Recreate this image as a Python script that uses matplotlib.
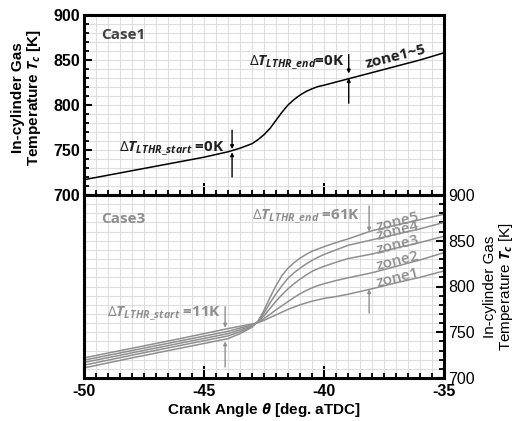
import matplotlib
matplotlib.use("Agg")
import matplotlib.pyplot as plt
from matplotlib.ticker import MultipleLocator, FixedLocator

plt.rcParams['axes.unicode_minus'] = False
plt.rcParams['mathtext.fontset'] = 'custom'
plt.rcParams['mathtext.rm'] = 'Open Sans'
plt.rcParams['mathtext.it'] = 'Open Sans:italic:bold'
plt.rcParams['mathtext.bf'] = 'Open Sans:bold'

# ---- data ----
theta_case1 = [-50, -49, -48, -47, -46, -45, -44, -43.5, -43, -42.75, -42.5, -42.25, -42,
               -41.75, -41.5, -41.25, -41, -40.75, -40.5, -40.25, -40, -39, -38, -37, -36, -35]
T_case1 = [717, 722, 727, 732, 737, 742, 748, 752, 757, 761.5, 767, 774, 783,
           792, 800, 806, 811, 815, 818, 820.5, 822, 829, 836, 843, 850, 858]

theta_case3 = [-50, -48, -46, -44, -43.5, -43, -42.75, -42.5, -42.25, -42, -41.75, -41.5,
               -41.25, -41, -40.75, -40.5, -40.25, -40, -39.5, -39, -38, -37, -36, -35]
T_zone1 = [722, 732.5, 743, 754, 756.5, 759, 760.5, 763, 766, 769, 772, 775,
           777.5, 780, 782, 784, 785.5, 787, 789, 791.5, 797.5, 804, 810, 817]
T_zone2 = [719.5, 730, 740.5, 751, 754.5, 758, 761, 765, 769.5, 774.5, 779, 783.5,
           788, 792, 795.5, 798.5, 801, 803, 806.5, 809.5, 815, 822, 829, 837]
T_zone3 = [717, 727.5, 738, 748.5, 752.5, 757, 761.5, 768, 776, 784, 791, 797.5,
           803, 808, 812.5, 816.5, 819.5, 822, 826.5, 830.5, 835.5, 842, 848, 855]
T_zone4 = [714, 725, 735.5, 746, 750.5, 756, 762, 771, 782, 792, 801, 809,
           815, 820, 824.5, 828.5, 832, 835, 840, 845, 851, 857, 863, 870]
T_zone5 = [711, 722, 732.5, 743, 748.5, 755.5, 762, 774, 788, 801, 812, 820,
           826, 831, 835, 838.5, 841, 843.5, 848, 852, 861, 867, 873, 879]
zone_labels = ['zone1', 'zone2', 'zone3', 'zone4', 'zone5']
x_ticks = [-50, -45, -40, -35]
y_ticks = [700, 750, 800, 850, 900]

gray = '#8f8f8f'
W, H = 517, 421
fig = plt.figure(figsize=(W / 100, H / 100), dpi=100)
left, right = 84 / W, 444 / W
ax1 = fig.add_axes([left, 1 - 195 / H, right - left, 180 / H])
ax2 = fig.add_axes([left, 1 - 378 / H, right - left, 183 / H])

for ax in (ax1, ax2):
    ax.set_xlim(-50, -35)
    ax.set_ylim(700, 900)
    ax.xaxis.set_major_locator(FixedLocator(x_ticks))
    ax.xaxis.set_minor_locator(MultipleLocator(0.5))
    ax.yaxis.set_major_locator(FixedLocator(y_ticks))
    ax.yaxis.set_minor_locator(MultipleLocator(10))
    ax.grid(True, which='both', color='#dedede', lw=0.8)
    ax.set_axisbelow(True)
    for s in ax.spines.values():
        s.set_linewidth(2.2)
    ax.tick_params(which='major', direction='in', length=8.5, width=1.5)
    ax.tick_params(which='minor', direction='in', length=3.8, width=1.3)

# top axes
ax1.tick_params(axis='x', which='both', bottom=True, top=False, labelbottom=False)
ax1.tick_params(axis='y', which='both', left=True, right=False, labelleft=True, pad=3)
ax1.tick_params(axis='y', which='major', length=6)
for lab in ax1.get_yticklabels():
    lab.set_fontweight('bold')
    lab.set_fontfamily('Liberation Sans')
    lab.set_fontsize(11.5)
ax1.set_ylabel('In-cylinder Gas\nTemperature $T_c$ [K]', fontsize=11, fontweight='bold',
               family='Liberation Sans', linespacing=1.0)
ax1.yaxis.set_label_coords(-0.113, 0.54)

ax1.plot(theta_case1, T_case1, color='black', lw=1.1)
ax1.text(-49.3, 878, 'Case1', fontsize=11, fontweight='bold', family='Open Sans',
         color='#404040', ha='left', va='center')
ax1.text(-44.15, 751, r'$\mathit{\Delta T}_{\mathit{LTHR\_start}}$ =0K', fontsize=11,
         fontweight='bold', family='Open Sans', color='#202020', ha='right', va='center')
ax1.text(-39.15, 847, r'$\mathit{\Delta T}_{\mathit{LTHR\_end}}$=0K', fontsize=11,
         fontweight='bold', family='Open Sans', color='#202020', ha='right', va='center')
ax1.text(-37.0, 854, 'zone1~5', fontsize=11, fontweight='bold', family='Open Sans',
         color='#202020', ha='center', va='center', rotation=14)
ap_k = dict(arrowstyle='-|>', lw=1.0, color='black', mutation_scale=5, shrinkA=0, shrinkB=0)
ax1.annotate('', xy=(-43.83, 751), xytext=(-43.83, 772), arrowprops=ap_k)
ax1.annotate('', xy=(-43.83, 747.5), xytext=(-43.83, 720), arrowprops=ap_k)
ax1.annotate('', xy=(-38.97, 835), xytext=(-38.97, 856), arrowprops=ap_k)
ax1.annotate('', xy=(-38.97, 830), xytext=(-38.97, 802), arrowprops=ap_k)

# bottom axes
ax2.tick_params(axis='x', which='both', bottom=True, top=False, labelbottom=True, pad=4)
ax2.tick_params(axis='y', which='both', left=False, right=True, labelleft=False,
                labelright=True, pad=3)
ax2.tick_params(axis='y', which='major', length=6)
for lab in ax2.get_xticklabels():
    lab.set_fontweight('bold')
    lab.set_fontfamily('Liberation Sans')
    lab.set_fontsize(11.5)
for lab in ax2.get_yticklabels():
    lab.set_fontfamily('Liberation Sans')
    lab.set_fontsize(11.5)
ax2.yaxis.set_label_position('right')
ax2.set_ylabel('In-cylinder Gas\nTemperature $T_c$ [K]', fontsize=11,
               family='Liberation Sans', labelpad=6, linespacing=1.0, rotation=90)
ax2.set_xlabel(r'Crank Angle $\theta$ [deg. aTDC]', fontsize=11, fontweight='bold',
               family='Liberation Sans', labelpad=2)

for T in (T_zone1, T_zone2, T_zone3, T_zone4, T_zone5):
    ax2.plot(theta_case3, T, color=gray, lw=1.1)

ax2.text(-49.3, 874, 'Case3', fontsize=11, fontweight='bold', family='Open Sans',
         color=gray, ha='left', va='center')
ax2.text(-44.3, 770, r'$\mathit{\Delta T}_{\mathit{LTHR\_start}}$ =11K', fontsize=11,
         fontweight='bold', family='Open Sans', color=gray, ha='right', va='center')
ax2.text(-38.5, 876, r'$\mathit{\Delta T}_{\mathit{LTHR\_end}}$ =61K', fontsize=11,
         fontweight='bold', family='Open Sans', color=gray, ha='right', va='center')
zone_pos = [810, 828, 846, 861, 870.5]
for lab, ty in zip(zone_labels, zone_pos):
    ax2.text(-36.92, ty, lab, fontsize=11, fontweight='semibold', family='Open Sans',
             color=gray, ha='center', va='center', rotation=14)
ap_g = dict(arrowstyle='-|>', lw=1.0, color=gray, mutation_scale=5, shrinkA=0, shrinkB=0)
ax2.annotate('', xy=(-44.12, 755), xytext=(-44.12, 778), arrowprops=ap_g)
ax2.annotate('', xy=(-44.12, 740), xytext=(-44.12, 712), arrowprops=ap_g)
ax2.annotate('', xy=(-38.12, 860), xytext=(-38.12, 888), arrowprops=ap_g)
ax2.annotate('', xy=(-38.12, 797), xytext=(-38.12, 771), arrowprops=ap_g)

fig.savefig('out.png', dpi=100)
